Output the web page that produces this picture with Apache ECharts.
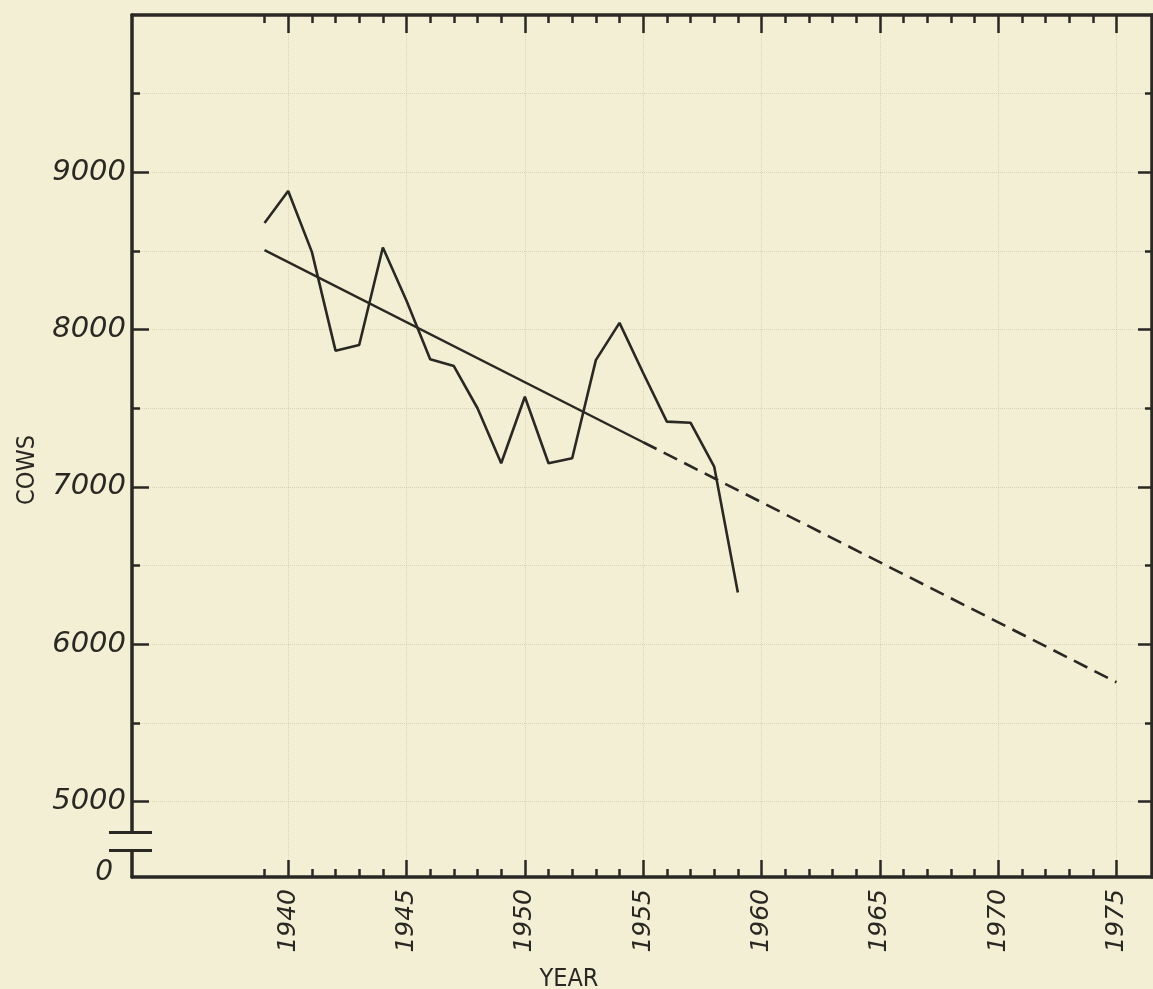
<!DOCTYPE html>
<html>
<head>
<meta charset="utf-8">
<script src="https://cdn.jsdelivr.net/npm/echarts@6/dist/echarts.min.js"></script>
<style>
  html, body { margin: 0; padding: 0; background: #f2efd4; }
  #chart { width: 1153px; height: 989px; }
</style>
</head>
<body>
<div id="chart"></div>
<script>
// values
var years = [1939, 1940, 1941, 1942, 1943, 1944, 1945, 1946, 1947, 1948, 1949,
             1950, 1951, 1952, 1953, 1954, 1955, 1956, 1957, 1958, 1959]
var cows = [8678, 8881, 8494, 7866, 7902, 8522, 8183, 7811, 7768, 7500, 7150,
            7573, 7150, 7182, 7806, 8043, 7724, 7415, 7408, 7129, 6329]
// fitted trend and its projection
var trendYears = [1939, 1955]
var trendCows = [8505, 7284]
var projYears = [1955, 1975]
var projCows = [7284, 5758]
// axis ticks / labels
var yearTicks = [1939, 1940, 1941, 1942, 1943, 1944, 1945, 1946, 1947, 1948, 1949,
                 1950, 1951, 1952, 1953, 1954, 1955, 1956, 1957, 1958, 1959, 1960,
                 1961, 1962, 1963, 1964, 1965, 1966, 1967, 1968, 1969, 1970, 1971,
                 1972, 1973, 1974, 1975]
var yearLabels = [1940, 1945, 1950, 1955, 1960, 1965, 1970, 1975]
var cowMinorTicks = [5000, 5500, 6000, 6500, 7000, 7500, 8000, 8500, 9000, 9500]
var cowLabels = [5000, 6000, 7000, 8000, 9000]
var cowAxisMin = 4520   // broken axis: bottom of the frame is labelled 0
var cowAxisMax = 10000
var yearMin = 1933.4
var yearMax = 1976.5
var breakValues = [4803, 4689]

var ink = '#2a2823'
var paper = '#f2efd4'
var numFont = 'DejaVu Sans'

function pairs (xs, ys) {
  return xs.map(function (x, i) { return [x, ys[i]] })
}

function xAxisDef (pos, ticks, len, withLine, withLabels) {
  return {
    type: 'value',
    position: pos,
    min: yearMin,
    max: yearMax,
    axisLine: { show: withLine, lineStyle: { color: ink, width: 3.5 } },
    axisTick: { show: true, inside: true, length: len, customValues: ticks, lineStyle: { color: ink, width: 2.5 } },
    axisLabel: withLabels ? {
      show: true,
      customValues: yearLabels,
      rotate: 90,
      margin: 12,
      color: ink,
      fontSize: 25,
      fontStyle: 'italic',
      fontFamily: numFont,
      formatter: function (v) { return String(v) }
    } : { show: false },
    splitLine: withLabels ? {
      show: true,
      lineStyle: { color: '#b9b59a', type: 'dotted', width: 1, opacity: 0.45 }
    } : { show: false }
  }
}

function yAxisDef (pos, ticks, len, withLine, withLabels, withSplit) {
  return {
    type: 'value',
    position: pos,
    offset: 0,
    min: cowAxisMin,
    max: cowAxisMax,
    axisLine: { show: withLine, lineStyle: { color: ink, width: 3.5 } },
    axisTick: { show: true, inside: true, length: len, customValues: ticks, lineStyle: { color: ink, width: 2.5 } },
    axisLabel: withLabels ? {
      show: true,
      customValues: [cowAxisMin].concat(cowLabels),
      margin: 6,
      color: ink,
      fontSize: 29,
      fontStyle: 'italic',
      fontFamily: numFont,
      formatter: function (v) {
        return v < 5000 ? '{z|0}' : String(v)
      },
      rich: {
        z: { fontSize: 28, fontStyle: 'italic', fontFamily: numFont, color: ink, padding: [0, 13, 8, 0] }
      }
    } : { show: false },
    splitLine: withSplit ? {
      show: true,
      lineStyle: { color: '#b9b59a', type: 'dotted', width: 1, opacity: 0.45 }
    } : { show: false }
  }
}

var chart = echarts.init(document.getElementById('chart'))
var option = {
  backgroundColor: paper,
  animation: false,
  grid: { left: 132, right: 1, top: 15, bottom: 112 },
  xAxis: [
    xAxisDef('bottom', yearLabels, 17, true, true),
    xAxisDef('bottom', yearTicks, 8, false, false),
    xAxisDef('top', yearLabels, 18, true, false),
    xAxisDef('top', yearTicks, 8, false, false)
  ],
  yAxis: [
    yAxisDef('left', cowLabels, 17, true, true, false),
    yAxisDef('left', cowMinorTicks, 8, false, false, true),
    yAxisDef('right', cowLabels, 14, true, false, false),
    yAxisDef('right', cowMinorTicks, 7, false, false, false)
  ],
  series: [
    {
      name: 'Cows',
      type: 'line',
      xAxisIndex: 0,
      yAxisIndex: 0,
      data: pairs(years, cows),
      symbol: 'none',
      lineStyle: { color: ink, width: 2.6 }
    },
    {
      name: 'Trend',
      type: 'line',
      xAxisIndex: 0,
      yAxisIndex: 0,
      data: pairs(trendYears, trendCows),
      symbol: 'none',
      lineStyle: { color: ink, width: 2.4 }
    },
    {
      name: 'Projection',
      type: 'line',
      xAxisIndex: 0,
      yAxisIndex: 0,
      data: pairs(projYears, projCows),
      symbol: 'none',
      lineStyle: { color: ink, width: 2.6, type: [15, 8] }
    }
  ]
}
chart.setOption(option)

// axis break marks and axis titles
var left = chart.convertToPixel({ xAxisIndex: 0 }, yearMin)
var b1 = chart.convertToPixel({ yAxisIndex: 0 }, breakValues[0])
var b2 = chart.convertToPixel({ yAxisIndex: 0 }, breakValues[1])
chart.setOption({
  graphic: [
    {
      type: 'rect',
      shape: { x: left - 4, y: b1 + 1, width: 8, height: b2 - b1 - 2 },
      style: { fill: paper },
      z: 100
    },
    {
      type: 'line',
      shape: { x1: left - 23, y1: b1, x2: left + 20, y2: b1 },
      style: { stroke: ink, lineWidth: 3 },
      z: 101
    },
    {
      type: 'line',
      shape: { x1: left - 23, y1: b2, x2: left + 20, y2: b2 },
      style: { stroke: ink, lineWidth: 3 },
      z: 101
    },
    {
      type: 'text',
      x: 569,
      y: 979,
      style: {
        text: 'YEAR',
        fill: ink,
        font: '25px "Liberation Sans Narrow", "DejaVu Sans Condensed", sans-serif',
        textAlign: 'center',
        textVerticalAlign: 'middle'
      }
    },
    {
      type: 'text',
      x: 27,
      y: 470,
      rotation: Math.PI / 2,
      style: {
        text: 'COWS',
        fill: ink,
        font: '25px "Liberation Sans Narrow", "DejaVu Sans Condensed", sans-serif',
        textAlign: 'center',
        textVerticalAlign: 'middle'
      }
    }
  ]
})
</script>
</body>
</html>
